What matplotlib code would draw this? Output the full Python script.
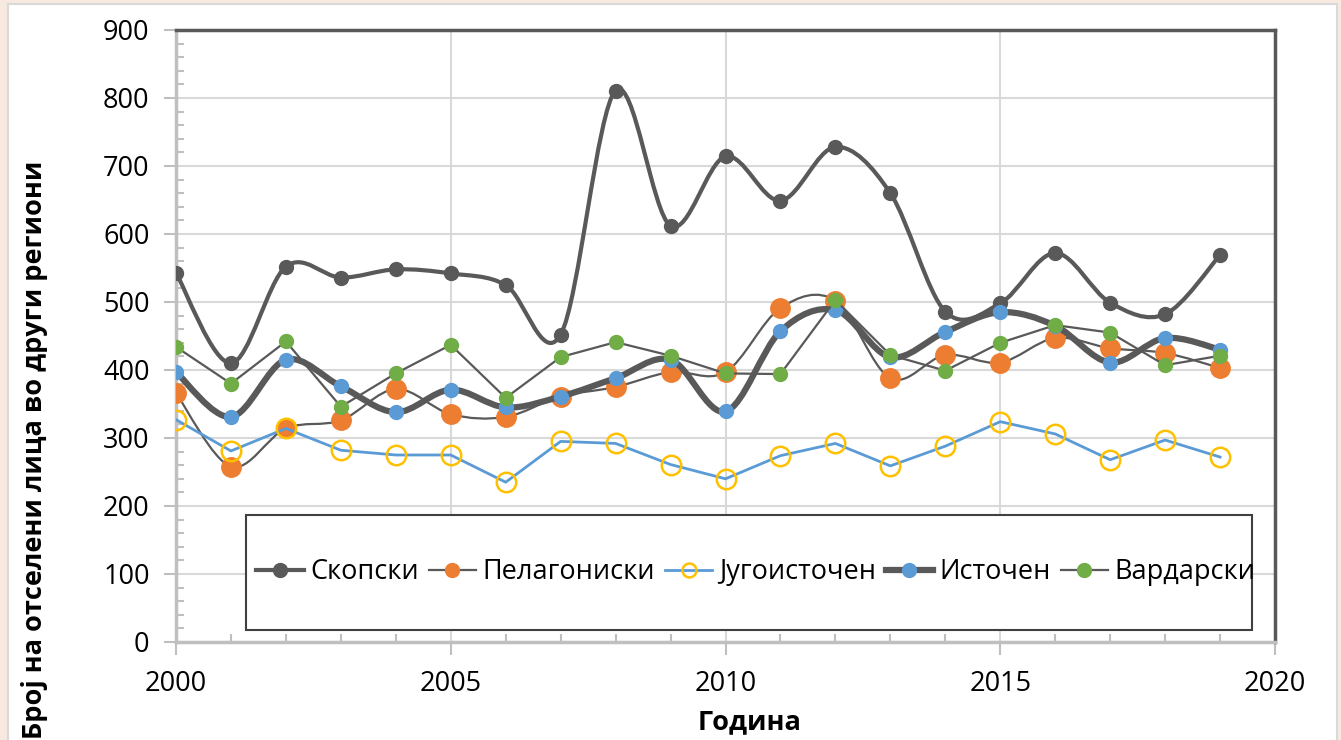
import numpy as np
import matplotlib.pyplot as plt
from matplotlib.path import Path
from matplotlib.patches import PathPatch, Rectangle
from matplotlib.lines import Line2D

plt.rcParams['font.family'] = ['Open Sans', 'DejaVu Sans']

years = list(range(2000, 2020))
skopski = [543, 410, 552, 536, 548, 542, 525, 452, 811, 612, 714, 649, 728, 660, 486, 498, 572, 499, 482, 569]
pelagoniski = [366, 258, 314, 326, 372, 335, 331, 361, 375, 397, 397, 491, 502, 388, 422, 411, 447, 432, 425, 403]
jugoistocen = [327, 281, 314, 282, 275, 275, 235, 295, 292, 261, 240, 274, 292, 259, 288, 324, 306, 268, 297, 272]
istocen = [397, 331, 415, 376, 338, 371, 345, 361, 388, 415, 339, 457, 488, 419, 456, 485, 465, 411, 447, 430]
vardarski = [434, 380, 442, 346, 395, 437, 359, 419, 441, 421, 395, 394, 503, 422, 399, 440, 466, 455, 407, 421]

GRAY = '#595959'


def smooth_path(x, y):
    # Excel-like smoothed line: cubic Bezier through every point
    x = np.asarray(x, float)
    y = np.asarray(y, float)
    n = len(x)
    verts = [(x[0], y[0])]
    codes = [Path.MOVETO]
    for i in range(n - 1):
        i0 = max(i - 1, 0)
        i3 = min(i + 2, n - 1)
        c1 = (x[i] + (x[i + 1] - x[i0]) / 6, y[i] + (y[i + 1] - y[i0]) / 6)
        c2 = (x[i + 1] - (x[i3] - x[i]) / 6, y[i + 1] - (y[i3] - y[i]) / 6)
        verts += [c1, c2, (x[i + 1], y[i + 1])]
        codes += [Path.CURVE4] * 3
    return Path(verts, codes)


fig = plt.figure(figsize=(13.41, 7.4), dpi=100, facecolor='#f7e9df')
bg = Rectangle((8 / 1341, -0.01), 1329 / 1341, 736 / 740 + 0.01,
               transform=fig.transFigure, facecolor='white',
               edgecolor='#d9d9d9', lw=1.5, zorder=-5)
fig.add_artist(bg)
ax = fig.add_axes([176 / 1341, 98 / 740, 1099 / 1341, 612 / 740])
ax.set_facecolor('white')

series = [
    ('Скопски', skopski, True, 3.0, dict(marker='o', ms=10, mfc=GRAY, mec=GRAY)),
    ('Пелагониски', pelagoniski, True, 1.6, dict(marker='o', ms=14, mfc='#ED7D31', mec='#ED7D31')),
    ('Југоисточен', jugoistocen, False, 2.0, dict(marker='o', ms=14, mfc='none', mec='#FFC000', mew=1.8)),
    ('Источен', istocen, True, 4.5, dict(marker='o', ms=10, mfc='#5B9BD5', mec='#5B9BD5')),
    ('Вардарски', vardarski, False, 1.6, dict(marker='o', ms=10, mfc='#70AD47', mec='#70AD47')),
]

handles = []
for k, (name, vals, smooth, lw, mk) in enumerate(series):
    z = 3 + k
    lcolor = '#5B9BD5' if name == 'Југоисточен' else GRAY
    if smooth:
        ax.add_patch(PathPatch(smooth_path(years, vals), fill=False,
                               edgecolor=lcolor, lw=lw, zorder=z, capstyle='round'))
    else:
        ax.plot(years, vals, color=lcolor, lw=lw, zorder=z)
    ax.plot(years, vals, ls='none', zorder=z + 0.5, **mk)
    lmk = dict(mk)
    lmk['ms'] = 10
    handles.append(Line2D([], [], color=lcolor, lw=lw, label=name, **lmk))

ax.set_xlim(2000, 2020)
ax.set_ylim(0, 900)
ax.set_xticks(range(2000, 2021, 5))
ax.set_xticks(range(2000, 2021), minor=True)
ax.set_yticks(range(0, 901, 100))
ax.set_yticks(range(0, 901, 20), minor=True)
ax.grid(True, which='major', color='#d9d9d9', lw=1.5, zorder=1)
ax.set_axisbelow(True)

ax.tick_params(which='major', direction='out', length=9, width=1.5, color='#bfbfbf',
               labelsize=19.5, labelcolor='black', pad=10)
ax.tick_params(which='minor', direction='in', length=6, width=1.5, color='#bfbfbf')
ax.tick_params(axis='x', pad=11)

for s in ['left', 'bottom']:
    ax.spines[s].set_color('#bfbfbf')
    ax.spines[s].set_linewidth(2.5)
ax.spines['top'].set_color(GRAY)
ax.spines['top'].set_linewidth(2.5)
ax.spines['right'].set_color(GRAY)
ax.spines['right'].set_linewidth(2.5)

fig.text(750 / 1341, (740 - 722) / 740, 'Година', fontsize=19.5, fontweight='bold',
         ha='center', va='center')
fig.text(35 / 1341, (740 - 450) / 740, 'Број на отселени лица во други региони',
         fontsize=19.5, fontweight='bold', rotation=90, ha='center', va='center')

ax.add_patch(Rectangle((70 / 1099, 12 / 612), 1006 / 1099, 115 / 612, transform=ax.transAxes,
                       facecolor='white', edgecolor='#404040', lw=1.5, zorder=20))
leg = ax.legend(handles=handles, loc='center', bbox_to_anchor=(580 / 1099, 70 / 612),
                ncol=5, frameon=False, fontsize=19.5, handlelength=1.75, handletextpad=0.25,
                columnspacing=0.35)
leg.set_zorder(21)

fig.savefig('out.png', dpi=100, facecolor=fig.get_facecolor())
